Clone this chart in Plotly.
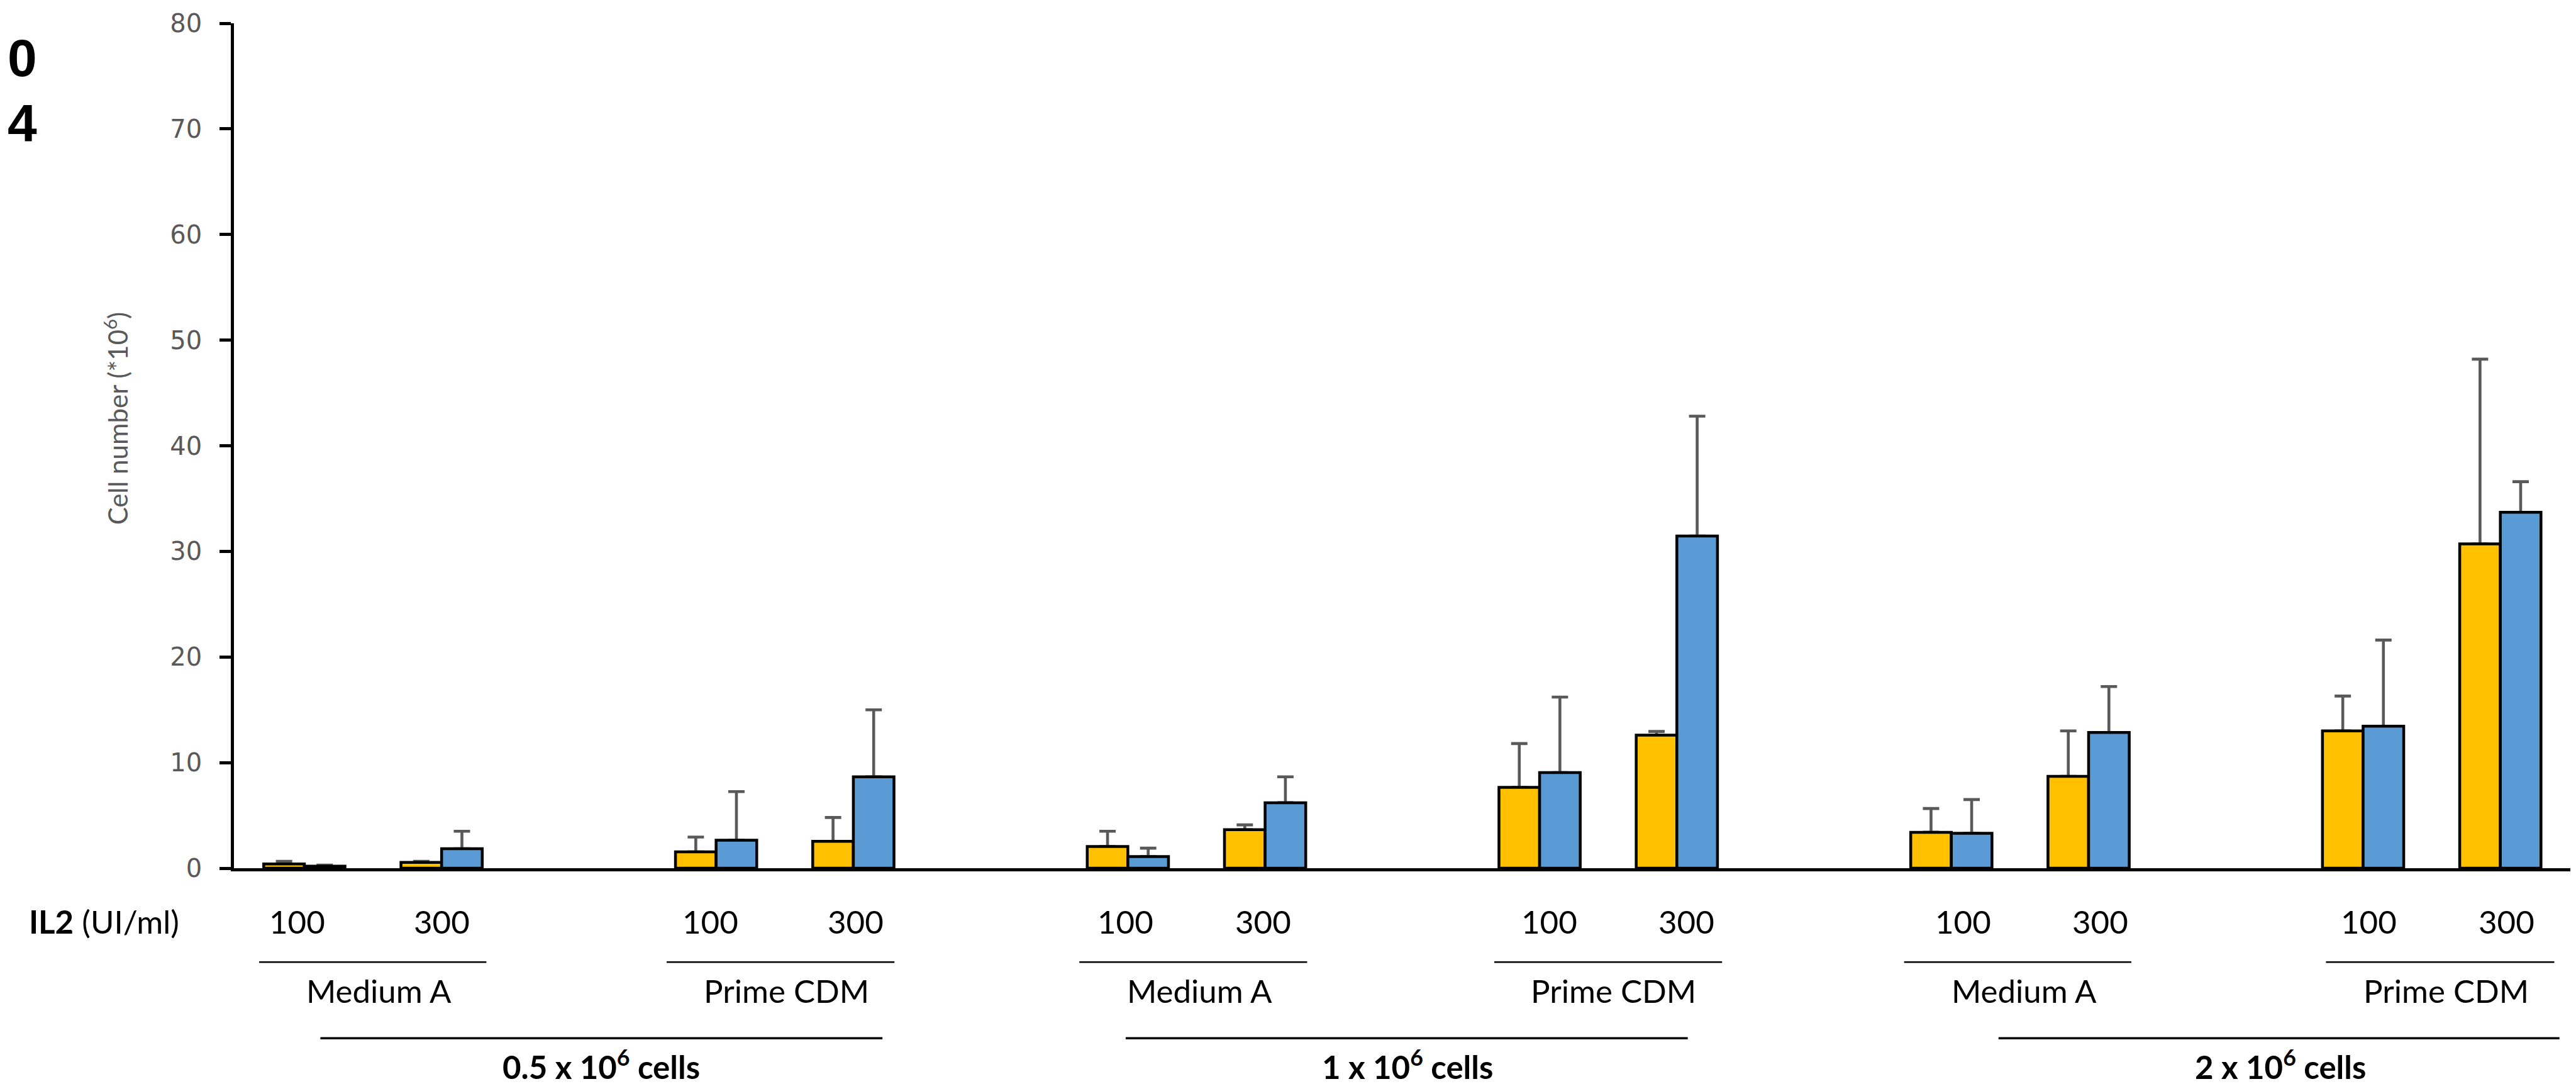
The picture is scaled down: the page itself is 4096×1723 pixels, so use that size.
import plotly.graph_objects as go

# ---------------- data ----------------
cell_groups = ["0.5 x 10<sup>6</sup> cells", "1 x 10<sup>6</sup> cells", "2 x 10<sup>6</sup> cells"]
media = ["Medium A", "Prime CDM"]
il2_doses = ["100", "300"]

# order: cell group -> medium -> IL2 dose
yellow_values = [0.40, 0.55, 1.55, 2.55, 2.05, 3.65, 7.65, 12.60, 3.40, 8.70, 13.00, 30.70]
yellow_errors = [0.25, 0.10, 1.40, 2.25, 1.45, 0.45, 4.15, 0.35, 2.25, 4.30, 3.30, 17.50]
blue_values = [0.20, 1.85, 2.65, 8.65, 1.10, 6.20, 9.05, 31.45, 3.30, 12.85, 13.45, 33.70]
blue_errors = [0.10, 1.65, 4.60, 6.35, 0.80, 2.45, 7.15, 11.35, 3.20, 4.35, 8.15, 2.90]

y_ticks = [0, 10, 20, 30, 40, 50, 60, 70, 80]
y_title = "Cell number (*10<sup>6</sup>)"
il2_title = "<b>IL2</b> (UI/ml)"
side_marks = ["0", "4"]

# ---------------- layout helpers ----------------
S = 0.91                      # reference -> window scale
W, H = 4096, 1723
X0, X1 = 400, 4482            # plot left/right in reference px
Y0, Y1 = 1508, 32             # y=0 and y=80 rows in reference px


def px(x_ref):
    return (x_ref - X0) / (X1 - X0)


def py(y_ref):
    return (Y0 - y_ref) / (Y0 - Y1)


# slot index of each bar pair: group*6 + medium*3 + dose
slots = []
for g in range(len(cell_groups)):
    for m in range(len(media)):
        for d in range(len(il2_doses)):
            slots.append(6 * g + 3 * m + d)

BAR_W = 0.296
YELLOW = "#FFC000"
BLUE = "#5B9BD5"
ERR_COL = "#595959"

fig = go.Figure()

# error bars first (transparent bars) so real bars cover the lower cap
for vals, errs, off in [(yellow_values, yellow_errors, -BAR_W), (blue_values, blue_errors, 0.0)]:
    fig.add_trace(go.Bar(
        x=slots, y=vals, offset=off, width=BAR_W,
        marker=dict(color="rgba(0,0,0,0)", line=dict(width=0)),
        error_y=dict(type="data", array=errs, arrayminus=[0] * len(errs), symmetric=False,
                     color=ERR_COL, thickness=4.6, width=13),
        showlegend=False, hoverinfo="skip",
    ))

for vals, off, col in [(yellow_values, -BAR_W, YELLOW), (blue_values, 0.0, BLUE)]:
    fig.add_trace(go.Bar(
        x=slots, y=vals, offset=off, width=BAR_W,
        marker=dict(color=col, line=dict(color="black", width=4.5)),
        showlegend=False,
    ))

annotations = []
shapes = []

LATO = "Lato"
FS = 51

# IL2 dose labels (reference px centres)
dose_label_x = [510, 763, 1232, 1486, 1958, 2198, 2698, 2938, 3421, 3661, 4130, 4371]
k = 0
for g in range(len(cell_groups)):
    for m in range(len(media)):
        for d in range(len(il2_doses)):
            annotations.append(dict(
                x=px(dose_label_x[k]), y=py(1601), xref="paper", yref="paper",
                text=il2_doses[d], showarrow=False, xanchor="center", yanchor="middle",
                font=dict(family=LATO, size=FS, color="black")))
            k += 1

annotations.append(dict(
    x=px(40), y=py(1601), xref="paper", yref="paper", text=il2_title,
    showarrow=False, xanchor="left", yanchor="middle",
    font=dict(family=LATO, size=FS, color="black")))

# medium lines and labels
medium_lines = [(444, 841), (1156, 1554), (1877, 2275), (2602, 3000), (3318, 3715), (4055, 4454)]
medium_label_x = [653, 1365, 2087, 2810, 3528, 4265]
k = 0
for g in range(len(cell_groups)):
    for m in range(len(media)):
        a, b = medium_lines[k]
        shapes.append(dict(type="line", xref="paper", yref="paper",
                           x0=px(a), x1=px(b), y0=py(1672), y1=py(1672),
                           line=dict(color="black", width=2.5)))
        annotations.append(dict(
            x=px(medium_label_x[k]), y=py(1722), xref="paper", yref="paper",
            text=media[m], showarrow=False, xanchor="center", yanchor="middle",
            font=dict(family=LATO, size=FS, color="black")))
        k += 1

# cell group lines and labels
cell_lines = [(551, 1533), (1958, 2940), (3483, 4463)]
cell_label_x = [1042, 2450, 3976]
for g in range(len(cell_groups)):
    a, b = cell_lines[g]
    shapes.append(dict(type="line", xref="paper", yref="paper",
                       x0=px(a), x1=px(b), y0=py(1805), y1=py(1805),
                       line=dict(color="black", width=3.6)))
    annotations.append(dict(
        x=px(cell_label_x[g]), y=py(1891), xref="paper", yref="paper",
        text="<b>" + cell_groups[g] + "</b>", showarrow=False, xanchor="center", yanchor="bottom",
        font=dict(family=LATO, size=FS, color="black")))

# y-axis title
annotations.append(dict(
    x=px(194), y=py(722), xref="paper", yref="paper", text=y_title,
    showarrow=False, textangle=-90, xanchor="center", yanchor="middle",
    font=dict(family=LATO, size=42, color="#595959")))

# bold marks at far left
for txt, yc in zip(side_marks, [92, 207]):
    annotations.append(dict(
        x=px(2), y=py(yc), xref="paper", yref="paper", text="<b>" + txt + "</b>",
        showarrow=False, xanchor="left", yanchor="middle",
        font=dict(family="Arial, Liberation Sans", size=84, color="black")))

fig.update_layout(
    width=W, height=H,
    margin=dict(l=X0 * S, r=W - X1 * S, t=Y1 * S, b=H - Y0 * S, pad=0, autoexpand=False),
    paper_bgcolor="white", plot_bgcolor="white",
    barmode="overlay",
    showlegend=False,
    xaxis=dict(range=[-0.513, 16.51], showline=True, linecolor="black", linewidth=4.5,
               showticklabels=False, ticks="", showgrid=False, zeroline=False, fixedrange=True),
    yaxis=dict(range=[0, 80], tickvals=y_ticks, ticktext=[str(t) for t in y_ticks],
               showline=True, linecolor="black", linewidth=4.5,
               ticks="outside", ticklen=18, tickwidth=4.5, tickcolor="black",
               ticklabelstandoff=20,
               tickfont=dict(family="DejaVu Sans", size=40, color="#595959"),
               showgrid=False, zeroline=False, fixedrange=True),
    annotations=annotations,
    shapes=shapes,
)

fig.write_html("out.html")
